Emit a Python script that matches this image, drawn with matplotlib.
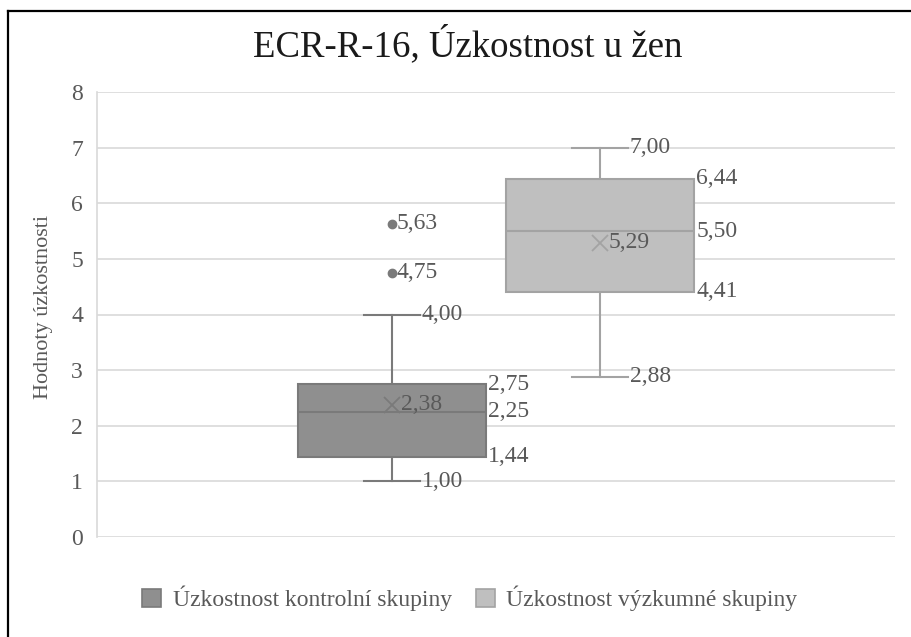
import matplotlib.pyplot as plt
from matplotlib.lines import Line2D
from matplotlib.patches import Patch

plt.rcParams["font.family"] = ["Liberation Serif", "DejaVu Serif"]

title = "ECR-R-16, Úzkostnost u žen"
ylabel = "Hodnoty úzkostnosti"
series = ["Úzkostnost kontrolní skupiny", "Úzkostnost výzkumné skupiny"]

# summary stats per series: whisker low, q1, median, q3, whisker high, mean
whislo = [1.00, 2.88]
q1 = [1.44, 4.41]
med = [2.25, 5.50]
q3 = [2.75, 6.44]
whishi = [4.00, 7.00]
means = [2.38, 5.29]
fliers = [[4.75, 5.63], []]

fills = ["#8f8f8f", "#bfbfbf"]
edges = ["#7a7a7a", "#a3a3a3"]
txt = "#595959"


def fmt(v):
    return f"{v:.2f}".replace(".", ",")


fig = plt.figure(figsize=(9.12, 6.37), dpi=100)
ax = fig.add_axes([97 / 912, 1 - 537 / 637, 798 / 912, 445 / 637])

positions = [0.3697, 0.6303]
width = 0.2356
stats = []
for i in range(2):
    stats.append(dict(whislo=whislo[i], q1=q1[i], med=med[i], q3=q3[i],
                      whishi=whishi[i], mean=means[i], fliers=fliers[i]))

bp = ax.bxp(stats, positions=positions, widths=width, patch_artist=True,
            showmeans=False, showfliers=True, manage_ticks=False)
for i, box in enumerate(bp["boxes"]):
    box.set_facecolor(fills[i])
    box.set_edgecolor(edges[i])
    box.set_linewidth(1.5)
    box.set_zorder(3)
for i in range(2):
    bp["medians"][i].set(color=edges[i], linewidth=1.5, zorder=4)
    for w in bp["whiskers"][2 * i:2 * i + 2]:
        w.set(color=edges[i], linewidth=1.5)
    for c in bp["caps"][2 * i:2 * i + 2]:
        c.set(color=edges[i], linewidth=1.5)
        c.set_xdata([positions[i] - 0.035, positions[i] + 0.035])
    bp["fliers"][i].set(marker="o", markersize=6, markerfacecolor=edges[i],
                        markeredgecolor=edges[i])

# mean markers
for i in range(2):
    ax.plot(positions[i], means[i], marker="x", markersize=12, color=edges[i],
            markeredgewidth=1.3, zorder=5, linestyle="none")

fs = 17
for i in range(2):
    cap_r = positions[i] + 0.037
    box_r = positions[i] + width / 2 + 0.003
    ax.text(cap_r, whishi[i], fmt(whishi[i]), va="center", ha="left", fontsize=fs, color=txt)
    ax.text(cap_r, whislo[i], fmt(whislo[i]), va="center", ha="left", fontsize=fs, color=txt)
    ax.text(box_r, q3[i], fmt(q3[i]), va="center", ha="left", fontsize=fs, color=txt)
    ax.text(box_r, med[i], fmt(med[i]), va="center", ha="left", fontsize=fs, color=txt)
    ax.text(box_r, q1[i], fmt(q1[i]), va="center", ha="left", fontsize=fs, color=txt)
    ax.text(positions[i] + 0.011, means[i], fmt(means[i]), va="center", ha="left",
            fontsize=fs, color=txt, zorder=6)
    for f in fliers[i]:
        ax.text(positions[i] + 0.006, f, fmt(f), va="center", ha="left", fontsize=fs, color=txt)

ax.set_xlim(0, 1)
ax.set_ylim(0, 8)
ax.set_yticks(range(0, 9))
ax.set_xticks([])
ax.grid(axis="y", color="#d9d9d9", linewidth=1.2)
ax.set_axisbelow(True)
for s in ["top", "right", "bottom"]:
    ax.spines[s].set_visible(False)
ax.spines["left"].set_color("#d9d9d9")
ax.spines["left"].set_linewidth(1.2)
ax.tick_params(axis="y", length=0, labelsize=fs, labelcolor=txt, pad=10)
ax.set_ylabel(ylabel, fontsize=16, color=txt)
ax.yaxis.set_label_coords(-(97 - 53) / 798, (537 - 307) / 445)

fig.text(468 / 912, 1 - 45 / 637, title, ha="center", va="center", fontsize=26.5, color="#1a1a1a")

handles = [Patch(facecolor=fills[i], edgecolor=edges[i], linewidth=1.2) for i in range(2)]
fig.legend(handles, series, loc="center", bbox_to_anchor=(470 / 912, 1 - 598 / 637),
           ncol=2, frameon=False, fontsize=fs, labelcolor=txt, handlelength=0.8,
           handleheight=0.8, handletextpad=0.5, columnspacing=1.0)

# frame lines at top and left edge
fig.add_artist(Line2D([8 / 912, 1], [1 - 11 / 637] * 2, color="black", linewidth=1.6,
                      transform=fig.transFigure))
fig.add_artist(Line2D([8 / 912] * 2, [0, 1 - 11 / 637], color="black", linewidth=1.6,
                      transform=fig.transFigure))

fig.savefig("out.png", dpi=100)
